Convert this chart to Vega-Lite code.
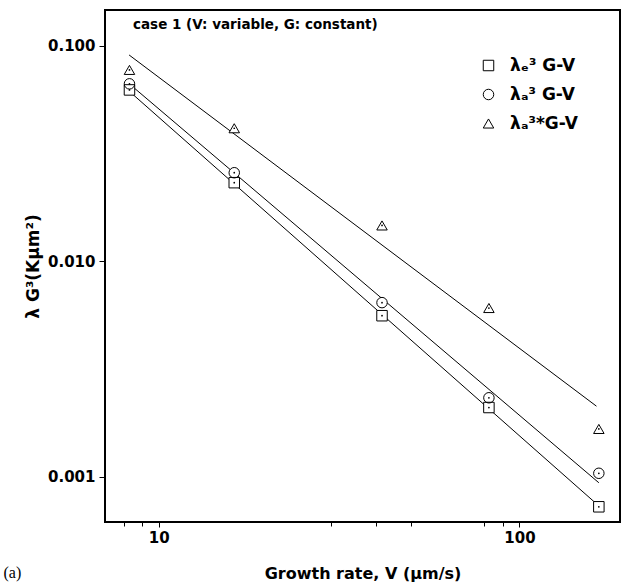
{
  "$schema": "https://vega.github.io/schema/vega-lite/v6.json",
  "width": 515,
  "height": 512,
  "autosize": {"type": "none"},
  "padding": {"left": 105, "top": 10, "right": 4, "bottom": 63},
  "background": "white",
  "config": {
    "view": {"stroke": "black", "strokeWidth": 2},
    "font": "DejaVu Sans",
    "axis": {"domain": false, "grid": false, "tickColor": "black", "labelColor": "black", "titleColor": "black", "labelFont": "DejaVu Sans", "titleFont": "DejaVu Sans", "labelFontWeight": "bold", "titleFontWeight": "bold"}
  },
  "title": {"text": "case 1 (V: variable, G: constant)", "anchor": "start", "frame": "group", "offset": -21, "dx": 28, "fontSize": 13.5, "fontWeight": "bold", "font": "DejaVu Sans", "color": "black"},
  "datasets": {
    "points": [
      {"series": "λₑ³ G-V", "V": 8.3, "value": 0.0625},
      {"series": "λₑ³ G-V", "V": 16.2, "value": 0.0232},
      {"series": "λₑ³ G-V", "V": 41.6, "value": 0.0056},
      {"series": "λₑ³ G-V", "V": 82.3, "value": 0.0021},
      {"series": "λₑ³ G-V", "V": 166, "value": 0.000727},
      {"series": "λₐ³ G-V", "V": 8.3, "value": 0.0667},
      {"series": "λₐ³ G-V", "V": 16.2, "value": 0.0258},
      {"series": "λₐ³ G-V", "V": 41.6, "value": 0.00644},
      {"series": "λₐ³ G-V", "V": 82.3, "value": 0.00233},
      {"series": "λₐ³ G-V", "V": 166, "value": 0.00104},
      {"series": "λₐ³*G-V", "V": 8.3, "value": 0.0774},
      {"series": "λₐ³*G-V", "V": 16.2, "value": 0.0415},
      {"series": "λₐ³*G-V", "V": 41.6, "value": 0.01469},
      {"series": "λₐ³*G-V", "V": 82.3, "value": 0.00608},
      {"series": "λₐ³*G-V", "V": 166, "value": 0.00167}
    ],
    "fits": [
      {"series": "λₑ³ G-V", "V": 8.3, "value": 0.0615},
      {"series": "λₑ³ G-V", "V": 166, "value": 0.000734},
      {"series": "λₐ³ G-V", "V": 8.3, "value": 0.0666},
      {"series": "λₐ³ G-V", "V": 166, "value": 0.00094},
      {"series": "λₐ³*G-V", "V": 8.28, "value": 0.0908},
      {"series": "λₐ³*G-V", "V": 163.5, "value": 0.00213}
    ]
  },
  "layer": [
    {
      "data": {"name": "fits"},
      "mark": {"type": "line", "color": "black", "strokeWidth": 1},
      "encoding": {
        "x": {"field": "V", "type": "quantitative", "scale": {"type": "log", "domain": [7.1, 190], "nice": false},
          "axis": {"orient": "bottom", "values": [10, 100], "format": "d", "tickSize": 5, "labelPadding": 3, "labelFontSize": 15, "title": "Growth rate, V (μm/s)", "titleFontSize": 16, "titleY": 56, "titleBaseline": "alphabetic"}},
        "y": {"field": "value", "type": "quantitative", "scale": {"type": "log", "domain": [0.000618, 0.1468], "nice": false},
          "axis": {"values": [0.001, 0.01, 0.1], "format": ".3f", "tickSize": 6, "labelPadding": 4, "labelFontSize": 15, "title": "λ G³(Kμm²)", "titleFontSize": 17, "titleX": -72, "titleBaseline": "middle"}},
        "detail": {"field": "series"}
      }
    },
    {
      "data": {"name": "points"},
      "transform": [{"filter": "datum.series === 'λₑ³ G-V'"}],
      "mark": {"type": "point", "shape": "square", "filled": true, "color": "white", "size": 110, "opacity": 1},
      "encoding": {
        "x": {"field": "V", "type": "quantitative", "axis": null},
        "y": {"field": "value", "type": "quantitative"}
      }
    },
    {
      "data": {"name": "points"},
      "transform": [{"filter": "datum.series === 'λₐ³ G-V'"}],
      "mark": {"type": "point", "shape": "circle", "filled": true, "color": "white", "size": 110, "opacity": 1},
      "encoding": {
        "x": {"field": "V", "type": "quantitative", "axis": null},
        "y": {"field": "value", "type": "quantitative"}
      }
    },
    {
      "data": {"name": "points"},
      "transform": [{"filter": "datum.series === 'λₐ³*G-V'"}],
      "mark": {"type": "point", "shape": "triangle-up", "filled": true, "color": "white", "size": 110, "opacity": 1},
      "encoding": {
        "x": {"field": "V", "type": "quantitative", "axis": null},
        "y": {"field": "value", "type": "quantitative"}
      }
    },
    {
      "data": {"name": "points"},
      "mark": {"type": "point", "filled": false, "color": "black", "strokeWidth": 1, "opacity": 1, "size": 110},
      "encoding": {
        "x": {"field": "V", "type": "quantitative", "axis": null},
        "y": {"field": "value", "type": "quantitative"},
        "shape": {"field": "series", "type": "nominal",
          "scale": {"domain": ["λₑ³ G-V", "λₐ³ G-V", "λₐ³*G-V"], "range": ["square", "circle", "triangle-up"]},
          "legend": {"title": null, "orient": "none", "legendX": 375, "legendY": 47, "symbolStrokeColor": "black", "symbolSize": 110, "symbolStrokeWidth": 1, "labelFontSize": 17, "labelFontWeight": "bold", "labelFont": "DejaVu Sans", "labelColor": "black", "labelOffset": 13, "rowPadding": 11}}
      }
    },
    {
      "data": {"name": "points"},
      "mark": {"type": "point", "filled": true, "color": "black", "size": 3, "opacity": 1},
      "encoding": {
        "x": {"field": "V", "type": "quantitative",
          "axis": {"orient": "bottom", "values": [8, 9, 30, 40, 50, 80, 90], "labels": false, "tickSize": 4, "title": "(a)", "titleFont": "Liberation Serif", "titleFontWeight": "normal", "titleFontSize": 16, "titleX": -102, "titleY": 55, "titleAlign": "left", "titleBaseline": "alphabetic"}},
        "y": {"field": "value", "type": "quantitative"}
      }
    }
  ],
  "resolve": {"axis": {"x": "independent"}}
}
